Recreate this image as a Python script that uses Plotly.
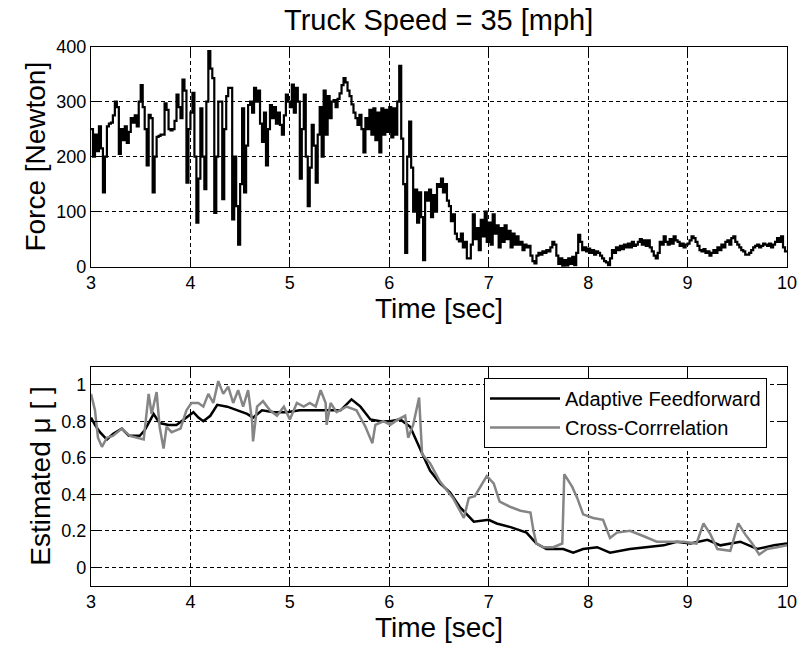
import plotly.graph_objects as go

# ---------------- data ----------------
force_t0 = 3.0
force_dt = 0.02
force_values = [
    250, 200, 240, 210, 255,
    215, 135, 200, 255, 260,
    262, 275, 300, 290, 205,
    250, 230, 255, 225, 245,
    270, 262, 275, 255, 300,
    330, 290, 250, 184, 276,
    270, 135, 200, 236, 238,
    240, 240, 297, 285, 250,
    248, 250, 265, 313, 290,
    270, 340, 320, 153, 250,
    280, 316, 200, 80, 160,
    288, 200, 141, 300, 392,
    360, 343, 98, 200, 300,
    300, 123, 250, 310, 325,
    325, 86, 200, 110, 40,
    150, 288, 135, 220, 294,
    300, 280, 325, 300, 320,
    260, 227, 280, 184, 250,
    294, 270, 290, 260, 280,
    258, 240, 275, 313, 300,
    290, 331, 280, 325, 300,
    160, 250, 313, 200, 110,
    180, 258, 220, 153, 240,
    290, 200, 320, 240, 310,
    270, 300, 303, 290, 305,
    315, 330, 343, 335, 320,
    310, 295, 280, 270, 258,
    276, 250, 208, 270, 250,
    285, 240, 288, 230, 280,
    208, 288, 240, 285, 245,
    290, 235, 288, 240, 300,
    365, 233, 150, 25, 200,
    264, 180, 100, 140, 80,
    135, 90, 12, 135, 120,
    140, 90, 130, 100, 150,
    145, 160, 135, 150, 120,
    110, 83, 95, 60, 50,
    46, 60, 35, 45, 15,
    15, 40, 95, 50, 70,
    30, 85, 55, 100, 45,
    80, 40, 95, 60, 75,
    35, 70, 45, 75, 50,
    65, 35, 60, 40, 55,
    40, 45, 30, 40, 35,
    38, 20, 10, 6, 20,
    25, 22, 28, 25, 30,
    28, 35, 45, 40, 20,
    5, 15, 0, 12, 2,
    15, 5, 18, 3, 25,
    58, 45, 30, 35, 28,
    33, 25, 30, 22, 28,
    25, 20, 15, 10, 8,
    3, 15, 30, 25, 35,
    30, 38, 32, 40, 35,
    42, 35, 45, 38, 40,
    45, 50, 40, 48, 38,
    48, 35, 28, 20, 15,
    25, 45, 40, 55, 45,
    40, 50, 42, 55, 48,
    45, 38, 42, 35, 40,
    42, 48, 55, 52, 45,
    38, 30, 28, 32, 25,
    28, 20, 25, 30, 25,
    35, 30, 40, 35, 45,
    48, 40, 52, 55, 45,
    40, 35, 30, 28, 22,
    22, 25, 30, 35, 38,
    40, 35, 38, 42, 40,
    38, 42, 35, 40, 45,
    52, 45, 55, 35, 28,
    30,
]
force_time = [round(force_t0 + i * force_dt, 4) for i in range(len(force_values))]

afc_time = [3.00, 3.04, 3.09, 3.16, 3.22, 3.31, 3.38, 3.49, 3.54, 3.63, 3.69, 3.78,
            3.86, 3.96, 4.03, 4.08, 4.13, 4.20, 4.27, 4.37, 4.47, 4.57, 4.63, 4.72,
            4.84, 4.97, 5.10, 5.24, 5.37, 5.51, 5.62, 5.71, 5.81, 5.91, 6.01, 6.11,
            6.21, 6.28, 6.35, 6.41, 6.51, 6.61, 6.71, 6.85, 7.00, 7.08, 7.22, 7.38,
            7.48, 7.58, 7.75, 7.85, 7.95, 8.09, 8.22, 8.42, 8.62, 8.76, 8.89, 9.03,
            9.20, 9.33, 9.53, 9.70, 9.87, 10.0]
afc_mu = [0.82, 0.78, 0.74, 0.70, 0.73, 0.76, 0.72, 0.72, 0.75, 0.84, 0.79, 0.78,
          0.78, 0.82, 0.85, 0.82, 0.80, 0.83, 0.89, 0.88, 0.86, 0.84, 0.82, 0.86,
          0.85, 0.85, 0.86, 0.86, 0.86, 0.86, 0.92, 0.88, 0.81, 0.80, 0.80, 0.81,
          0.77, 0.68, 0.60, 0.53, 0.46, 0.41, 0.33, 0.25, 0.26, 0.24, 0.22, 0.19,
          0.13, 0.10, 0.10, 0.08, 0.10, 0.11, 0.08, 0.10, 0.11, 0.12, 0.14, 0.13,
          0.15, 0.12, 0.14, 0.10, 0.12, 0.13]

cc_time = [3.00, 3.04, 3.07, 3.11, 3.16, 3.22, 3.31, 3.39, 3.53, 3.58, 3.61, 3.66,
           3.69, 3.73, 3.76, 3.81, 3.90, 3.96, 4.01, 4.08, 4.13, 4.18, 4.23, 4.28,
           4.33, 4.38, 4.43, 4.48, 4.53, 4.58, 4.62, 4.63, 4.67, 4.73, 4.80, 4.87,
           4.94, 5.00, 5.07, 5.14, 5.20, 5.26, 5.31, 5.36, 5.37, 5.41, 5.47, 5.57,
           5.67, 5.76, 5.83, 5.86, 5.94, 6.01, 6.09, 6.16, 6.19, 6.24, 6.30, 6.33,
           6.41, 6.51, 6.64, 6.75, 6.80, 6.86, 6.98, 7.05, 7.11, 7.22, 7.32, 7.42,
           7.45, 7.48, 7.55, 7.65, 7.74, 7.76, 7.84, 7.89, 7.95, 8.05, 8.15, 8.22,
           8.29, 8.42, 8.56, 8.69, 8.83, 8.96, 9.09, 9.16, 9.23, 9.30, 9.43, 9.51,
           9.58, 9.65, 9.72, 9.80, 9.90, 10.0]
cc_mu = [0.95, 0.86, 0.71, 0.66, 0.71, 0.72, 0.76, 0.72, 0.70, 0.95, 0.84, 0.96,
         0.77, 0.65, 0.77, 0.74, 0.76, 0.86, 0.90, 0.90, 0.88, 0.95, 0.90, 1.02,
         0.95, 0.99, 0.90, 0.97, 0.88, 0.97, 0.80, 0.69, 0.88, 0.91, 0.86, 0.83,
         0.88, 0.81, 0.90, 0.88, 0.90, 0.88, 0.97, 0.90, 0.78, 0.90, 0.85, 0.88,
         0.86, 0.77, 0.68, 0.78, 0.80, 0.78, 0.81, 0.83, 0.71, 0.78, 0.93, 0.62,
         0.57, 0.47, 0.38, 0.27, 0.38, 0.39, 0.50, 0.46, 0.36, 0.33, 0.31, 0.30,
         0.20, 0.13, 0.11, 0.11, 0.13, 0.51, 0.44, 0.38, 0.29, 0.27, 0.26, 0.16,
         0.19, 0.20, 0.17, 0.14, 0.14, 0.14, 0.13, 0.24, 0.18, 0.10, 0.09, 0.24,
         0.18, 0.13, 0.07, 0.10, 0.11, 0.12]

x_ticks = [3, 4, 5, 6, 7, 8, 9, 10]
force_ticks = [0, 100, 200, 300, 400]
mu_ticks = [0, 0.2, 0.4, 0.6, 0.8, 1]

# ---------------- figure ----------------
FONT = "Liberation Sans, Arial, Helvetica, sans-serif"

fig = go.Figure()
fig.add_trace(go.Scatter(x=force_time, y=force_values, mode="lines",
                         line=dict(color="black", width=2.2, shape="hv"),
                         showlegend=False, xaxis="x", yaxis="y"))
fig.add_trace(go.Scatter(x=afc_time, y=afc_mu, mode="lines",
                         line=dict(color="black", width=2.5),
                         name="Adaptive Feedforward",
                         xaxis="x2", yaxis="y2"))
fig.add_trace(go.Scatter(x=cc_time, y=cc_mu, mode="lines",
                         line=dict(color="#858585", width=2.5),
                         name="Cross-Corrrelation",
                         xaxis="x2", yaxis="y2"))

W, H = 800, 654
xdom = [91 / W, 787 / W]
ydom1 = [1 - 266.7 / H, 1 - 46.7 / H]
ydom2 = [1 - 585.5 / H, 1 - 366.5 / H]

axis_common = dict(
    automargin=False,
    showline=True, linecolor="black", linewidth=1.2, mirror="allticks",
    ticks="inside", ticklen=7, tickcolor="black", tickwidth=1,
    showgrid=True, gridcolor="black", gridwidth=1, griddash="4px,3px",
    zeroline=False,
    tickfont=dict(family=FONT, size=18, color="black"),
)

fig.update_layout(
    template="none",
    width=W, height=H,
    margin=dict(l=0, r=0, t=0, b=0, pad=0),
    paper_bgcolor="white", plot_bgcolor="white",
    font=dict(family=FONT, color="black"),
    xaxis=dict(domain=xdom, anchor="y", range=[3, 10], tickvals=x_ticks,
               title=dict(text="Time [sec]", font=dict(size=28), standoff=4),
               **axis_common),
    yaxis=dict(domain=ydom1, anchor="x", range=[0, 400], tickvals=force_ticks,
               title=dict(text="Force [Newton]", font=dict(size=28), standoff=2),
               **axis_common),
    xaxis2=dict(domain=xdom, anchor="y2", range=[3, 10], tickvals=x_ticks,
                title=dict(text="Time [sec]", font=dict(size=28), standoff=4),
                **axis_common),
    yaxis2=dict(domain=ydom2, anchor="x2", range=[-0.1, 1.1], tickvals=mu_ticks,
                title=dict(text="Estimated μ [ ]", font=dict(size=28), standoff=2),
                **axis_common),
    legend=dict(x=484 / W, y=1 - 378 / H, xanchor="left", yanchor="top",
                bgcolor="white", bordercolor="black", borderwidth=1,
                font=dict(family=FONT, size=20, color="black"),
                itemwidth=70, tracegroupgap=0),
    annotations=[dict(text="Truck Speed = 35 [mph]", xref="paper", yref="paper",
                      x=(xdom[0] + xdom[1]) / 2, y=1 - 20 / H,
                      xanchor="center", yanchor="middle", showarrow=False,
                      font=dict(family=FONT, size=29, color="black"))],
)

fig.write_html("out.html")
